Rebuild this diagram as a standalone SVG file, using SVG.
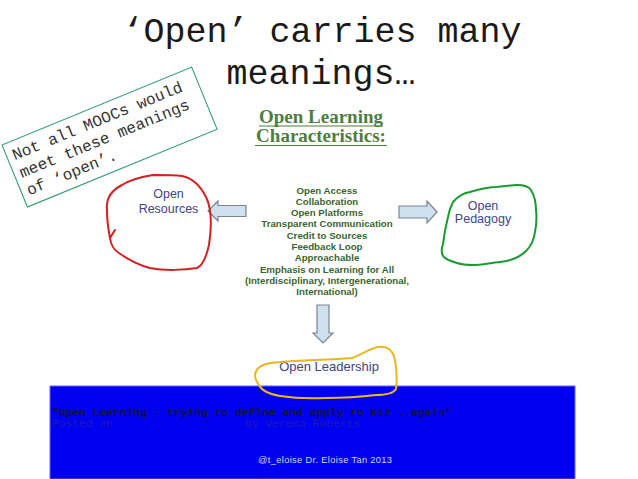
<svg xmlns="http://www.w3.org/2000/svg" width="638" height="479" viewBox="0 0 638 479">
<style>
.mono{font-family:"Liberation Mono","Courier New",monospace}
.title{font-size:35px;fill:#1a1a1a;text-anchor:middle}
.note{font-size:16px;fill:#333}
.olc{font-family:"Liberation Serif","Times New Roman",serif;font-weight:bold;font-size:19px;fill:#4e7e3e;text-anchor:middle}
.list{font-family:"Liberation Sans",Arial,sans-serif;font-weight:bold;font-size:9.7px;fill:#3a6630;text-anchor:middle}
.lbl{font-family:"Liberation Sans",Arial,sans-serif;font-size:12.5px;fill:#434386;text-anchor:middle}
.arrow{fill:#cfe0ef;stroke:#7b8490;stroke-width:1.2}
.loop{fill:none;stroke-width:2;stroke-linejoin:round;stroke-linecap:round}
</style>
<rect width="638" height="479" fill="#fff"/>
<g id="title">
<text class="mono title" x="322" y="42">‘Open’ carries many</text>
<text class="mono title" x="321" y="84">meanings…</text>
</g>
<g id="note" transform="translate(2,145) rotate(-22.3)">
<rect x="0" y="0" width="205" height="67" fill="none" stroke="#2a9a6a" stroke-width="1"/>
<text class="mono note" x="6" y="19">Not all MOOCs would</text>
<text class="mono note" x="6" y="38">meet these meanings</text>
<text class="mono note" x="6" y="57">of ‘open’.</text>
</g>
<g id="heading">
<text class="olc" x="321" y="123">Open Learning</text>
<text class="olc" x="321" y="142">Characteristics:</text>
<line x1="259" y1="126" x2="383" y2="126" stroke="#4e7e3e" stroke-width="1.2"/>
<line x1="255" y1="145.5" x2="387" y2="145.5" stroke="#4e7e3e" stroke-width="1.2"/>
</g>
<g id="characteristics">
<text class="list" x="327" y="193.5">Open Access</text>
<text class="list" x="327" y="204.8">Collaboration</text>
<text class="list" x="327" y="216.1">Open Platforms</text>
<text class="list" x="327" y="227.4">Transparent Communication</text>
<text class="list" x="327" y="238.7">Credit to Sources</text>
<text class="list" x="327" y="250">Feedback Loop</text>
<text class="list" x="327" y="261.3">Approachable</text>
<text class="list" x="327" y="272.6">Emphasis on Learning for All</text>
<text class="list" x="327" y="283.9">(Interdisciplinary, Intergenerational,</text>
<text class="list" x="327" y="295.2">International)</text>
</g>
<g id="connectors">
<polygon class="arrow" points="208,211 218,201 218,205.5 246,205.5 246,216.5 218,216.5 218,221"/>
<polygon class="arrow" points="437,212 427,201 427,206 399,206 399,218 427,218 427,223"/>
<polygon class="arrow" points="317,305 329,305 329,333 333,333 323,343 313,333 317,333"/>
</g>
<g id="open-resources">
<path class="loop" stroke="#d42020" d="M107,210 C106,200 110,191 122,185 C130,180 140,177 153,175 C165,175 175,175 182,176 C192,178 200,185 206,197 C211,207 212,225 209,245 C206,258 202,266 197,268 C185,270 165,271 150,268 C138,265 126,258 119,253 C114,250 111,246 110,238 L115,230 M110,238 C108,228 107,220 107,210"/>
<text class="lbl" x="168.5" y="198">Open</text>
<text class="lbl" x="168.5" y="213">Resources</text>
</g>
<g id="open-pedagogy">
<path class="loop" stroke="#1a9a30" d="M453,202 C458,196 464,193 470,192 C480,189 490,187 497,187 C505,186 512,185 517,185 C524,185 529,187 531,190 C534,195 536,203 536,210 C537,218 536,227 535,232 C534,240 530,247 526,251 C520,257 510,261 500,262 C490,263 480,265 473,265 C465,265 460,264 457,263 C450,261 446,259 444,257 C441,254 441,250 443,244 C444,235 446,225 448,217 C449,211 451,206 453,202 Z"/>
<text class="lbl" x="483" y="210">Open</text>
<text class="lbl" x="483" y="223">Pedagogy</text>
</g>
<g id="open-leadership">
<text class="lbl" x="329" y="371" style="font-size:13px">Open Leadership</text>
</g>
<g id="footer">
<rect x="50" y="386" width="525" height="93" fill="#0000f0" stroke="#6464ff" stroke-width="1"/>
<text class="mono" x="52" y="416" style="font-size:11.3px;font-weight:bold;fill:#12123a">"Open Learning - trying to define and apply to K12 ..again"</text>
<text class="mono" x="52" y="427" style="font-size:11.3px;fill:#1c1cb4">Posted on</text>
<text class="mono" x="245" y="427" style="font-size:11.3px;fill:#1c1cb4">by Verena Roberts</text>
<text x="325" y="463" textLength="134" style="font-family:'Liberation Sans',Arial,sans-serif;font-size:9.3px;fill:#d4d8ff;text-anchor:middle">@t_eloise Dr. Eloise Tan 2013</text>
</g>
<g id="leadership-loop">
<path class="loop" stroke="#e8b820" d="M255,375 C256,366 265,363 280,362 C300,360 330,360 352,358 C362,355 368,349 378,347 C388,346 393,350 395,360 C397,372 397,383 396,389 C393,394 385,395 376,395 C360,397 345,398 325,398 C305,399 293,398 280,396 C268,394 262,391 259,385 C256,381 255,378 255,375"/>
</g>
</svg>
